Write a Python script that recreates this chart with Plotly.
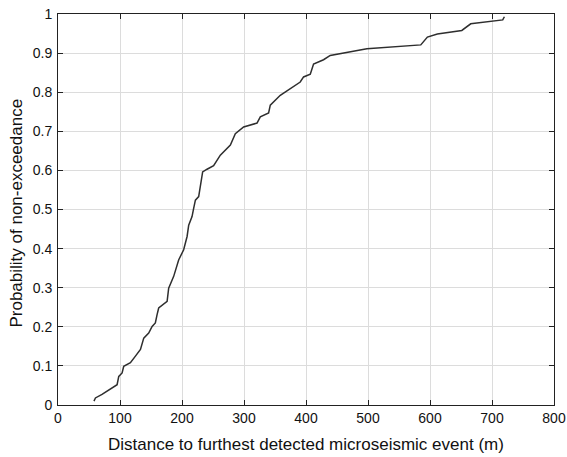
import plotly.graph_objects as go

distance_m = [58, 60.4, 71, 79, 95.3, 98, 103.4, 106, 116.8, 124.9, 133, 138.3, 146.3, 151.8,
              157, 159.8, 162.4, 176, 178.5, 186.6, 194.6, 202.7, 208.2, 210.8, 216.2, 218.8,
              221.6, 226.9, 229.6, 233.3, 240.4, 251, 261.8, 278, 286, 299.4, 321, 326.3,
              339.7, 342.4, 358.5, 374.6, 390.7, 396.1, 406.9, 412.2, 428.3, 439.1, 471.3,
              498.2, 585.1, 595.8, 611.9, 651.3, 665.7, 702.2, 717.3, 720]
probability = [0.01, 0.018, 0.027, 0.035, 0.052, 0.073, 0.082, 0.099, 0.108, 0.125, 0.142, 0.171,
               0.184, 0.201, 0.21, 0.231, 0.248, 0.265, 0.299, 0.329, 0.371, 0.397, 0.431, 0.46,
               0.482, 0.503, 0.524, 0.533, 0.562, 0.596, 0.603, 0.612, 0.639, 0.665, 0.694, 0.711,
               0.721, 0.737, 0.747, 0.767, 0.792, 0.809, 0.826, 0.839, 0.846, 0.872, 0.883, 0.894,
               0.903, 0.911, 0.921, 0.941, 0.949, 0.958, 0.975, 0.983, 0.985, 0.993]

x_ticks = [0, 100, 200, 300, 400, 500, 600, 700, 800]
y_ticks = [0, 0.1, 0.2, 0.3, 0.4, 0.5, 0.6, 0.7, 0.8, 0.9, 1]
y_labels = ["0", "0.1", "0.2", "0.3", "0.4", "0.5", "0.6", "0.7", "0.8", "0.9", "1"]
x_title = "Distance to furthest detected microseismic event (m)"
y_title = "Probability of non-exceedance"

fig = go.Figure()
fig.add_trace(go.Scatter(x=distance_m, y=probability, mode="lines",
                         line=dict(color="#2e2e2e", width=1.5), showlegend=False))

axis_common = dict(showline=True, linecolor="#222222", linewidth=1, mirror="ticks",
                   ticks="inside", ticklen=5, tickcolor="#222222", automargin=False,
                   showgrid=True, gridcolor="#dcdcdc", gridwidth=1, zeroline=False,
                   tickfont=dict(size=14, color="#111111"))

fig.update_xaxes(range=[0, 800], tickvals=x_ticks, ticktext=[str(v) for v in x_ticks],
                 **axis_common)
fig.update_yaxes(range=[0, 1], tickvals=y_ticks, ticktext=y_labels, ticklabelstandoff=2,
                 **axis_common)

fig.add_annotation(text=x_title, xref="paper", yref="paper", x=0.5, y=-0.1,
                   xanchor="center", yanchor="middle", showarrow=False,
                   font=dict(size=17, color="#111111"))
fig.add_annotation(text=y_title, xref="paper", yref="paper", x=-0.0856, y=0.491,
                   xanchor="center", yanchor="middle", textangle=-90, showarrow=False,
                   font=dict(size=17, color="#111111"))

fig.update_layout(width=567, height=457,
                  margin=dict(l=57.5, r=13, t=13.5, b=51.5, pad=0, autoexpand=False),
                  plot_bgcolor="white", paper_bgcolor="white",
                  font=dict(family="Liberation Sans, Arial, sans-serif"))

fig.write_html("out.html", config={"displayModeBar": False},
               post_script="document.body.style.margin='0';document.body.style.overflow='hidden';")
